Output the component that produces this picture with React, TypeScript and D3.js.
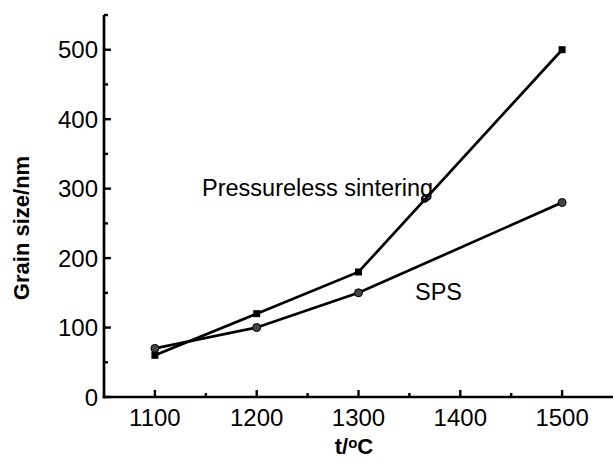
import React, { useEffect, useRef } from 'react'
import * as d3 from 'd3'

// temperatures (°C) and grain sizes (nm)
const pressurelessT = [1100, 1200, 1300, 1500]
const pressurelessSize = [60, 120, 180, 500]
const spsT = [1100, 1200, 1300, 1500]
const spsSize = [70, 100, 150, 280]
// the lone round marker sitting on the pressureless line
const strayT = [1365]
const straySize = [285]

const xMajor = [1100, 1200, 1300, 1400, 1500]
const xMinor = [1150, 1250, 1350, 1450]
const yMajor = [0, 100, 200, 300, 400, 500]
const yMinor = [50, 150, 250, 350, 450, 550]

const W = 613
const H = 461
const FONT = 'Liberation Sans, Arial, Helvetica, sans-serif'

export default function App() {
  const ref = useRef<SVGSVGElement>(null)

  useEffect(() => {
    const svg = d3.select(ref.current)
    svg.selectAll('*').remove()

    const x = d3.scaleLinear().domain([1050, 1550]).range([104, 613])
    const y = d3.scaleLinear().domain([0, 550]).range([397, 15])

    const g = svg.append('g')

    // axis lines
    g.append('line')
      .attr('x1', x(1050)).attr('x2', x(1050))
      .attr('y1', y(550)).attr('y2', y(0) + 1.3)
      .attr('stroke', '#000').attr('stroke-width', 2.7)
    g.append('line')
      .attr('x1', x(1050) - 1.3).attr('x2', x(1550))
      .attr('y1', y(0)).attr('y2', y(0))
      .attr('stroke', '#000').attr('stroke-width', 2.7)

    // y ticks (pointing in)
    g.selectAll('.ymaj').data(yMajor).enter().append('line')
      .attr('x1', x(1050)).attr('x2', x(1050) + 7)
      .attr('y1', d => y(d)).attr('y2', d => y(d))
      .attr('stroke', '#000').attr('stroke-width', 2.4)
    g.selectAll('.ymin').data(yMinor).enter().append('line')
      .attr('x1', x(1050)).attr('x2', x(1050) + 4)
      .attr('y1', d => y(d)).attr('y2', d => y(d))
      .attr('stroke', '#000').attr('stroke-width', 2.4)
    g.selectAll('.ylab').data(yMajor).enter().append('text')
      .attr('x', 98).attr('y', d => y(d) + 8.5)
      .attr('text-anchor', 'end')
      .attr('font-family', FONT).attr('font-size', 24)
      .text(d => d)

    // x ticks (pointing up)
    g.selectAll('.xmaj').data(xMajor).enter().append('line')
      .attr('x1', d => x(d)).attr('x2', d => x(d))
      .attr('y1', y(0)).attr('y2', y(0) - 7)
      .attr('stroke', '#000').attr('stroke-width', 2.4)
    g.selectAll('.xmin').data(xMinor).enter().append('line')
      .attr('x1', d => x(d)).attr('x2', d => x(d))
      .attr('y1', y(0)).attr('y2', y(0) - 4)
      .attr('stroke', '#000').attr('stroke-width', 2.4)
    g.selectAll('.xlab').data(xMajor).enter().append('text')
      .attr('x', d => x(d)).attr('y', 426)
      .attr('text-anchor', 'middle')
      .attr('font-family', FONT).attr('font-size', 24)
      .text(d => d)

    // axis titles
    g.append('text')
      .attr('transform', 'translate(29,228) rotate(-90)')
      .attr('text-anchor', 'middle')
      .attr('font-family', FONT).attr('font-size', 22).attr('font-weight', 'bold')
      .text('Grain size/nm')
    const xt = g.append('text')
      .attr('x', 354).attr('y', 454)
      .attr('text-anchor', 'middle')
      .attr('font-family', FONT).attr('font-size', 22).attr('font-weight', 'bold')
    xt.append('tspan').text('t/')
    xt.append('tspan').attr('font-size', 15).attr('dy', -6).text('o')
    xt.append('tspan').attr('dy', 6).text('C')

    const line = d3.line<[number, number]>()
      .x(d => x(d[0])).y(d => y(d[1]))

    const pl = pressurelessT.map((t, i) => [t, pressurelessSize[i]] as [number, number])
    const sp = spsT.map((t, i) => [t, spsSize[i]] as [number, number])

    g.append('path').datum(pl).attr('d', line)
      .attr('fill', 'none').attr('stroke', '#000').attr('stroke-width', 2.7)
    g.append('path').datum(sp).attr('d', line)
      .attr('fill', 'none').attr('stroke', '#000').attr('stroke-width', 2.7)

    g.selectAll('.sq').data(pl).enter().append('rect')
      .attr('x', d => x(d[0]) - 3.5).attr('y', d => y(d[1]) - 3.5)
      .attr('width', 7).attr('height', 7).attr('fill', '#000')
    g.selectAll('.ci').data(sp).enter().append('circle')
      .attr('cx', d => x(d[0])).attr('cy', d => y(d[1])).attr('r', 4)
      .attr('fill', '#444').attr('stroke', '#000').attr('stroke-width', 1)
    g.selectAll('.stray').data(strayT.map((t, i) => [t, straySize[i]])).enter().append('circle')
      .attr('cx', d => x(d[0])).attr('cy', d => y(d[1])).attr('r', 3)
      .attr('fill', 'none').attr('stroke', '#000').attr('stroke-width', 1.5)

    // series labels
    g.append('text')
      .attr('x', 202).attr('y', 196)
      .attr('font-family', FONT).attr('font-size', 23.5)
      .text('Pressureless sintering')
    g.append('text')
      .attr('x', 415).attr('y', 300)
      .attr('font-family', FONT).attr('font-size', 23.5)
      .text('SPS')
  }, [])

  return (
    <svg ref={ref} width={W} height={H}
      style={{ position: 'absolute', left: 0, top: 0, background: '#fff' }} />
  )
}
